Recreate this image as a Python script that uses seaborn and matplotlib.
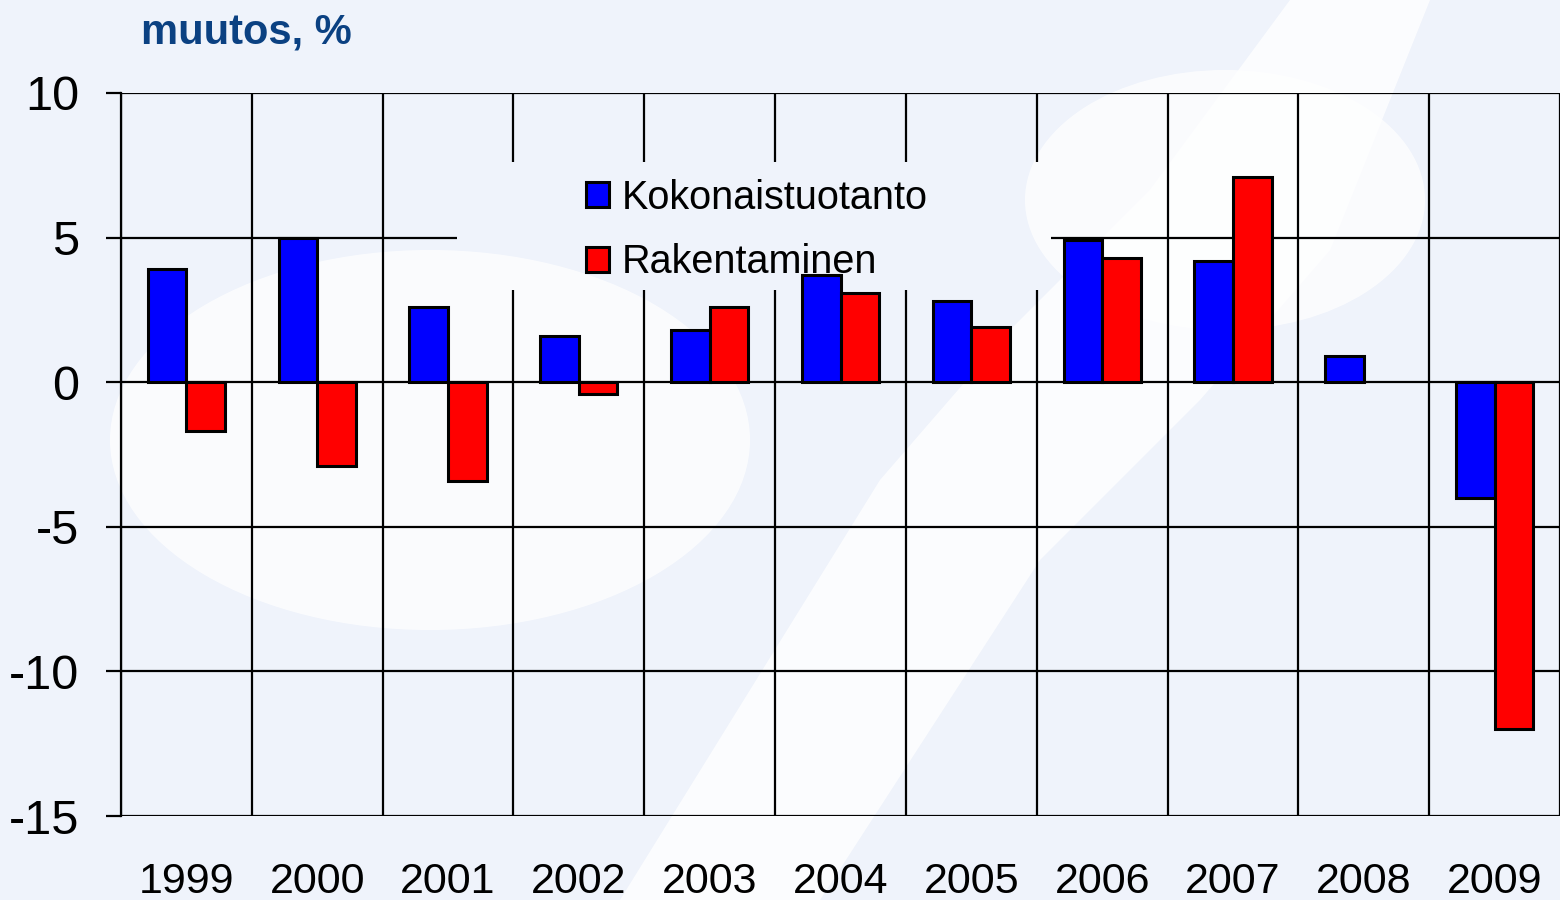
import numpy as np
import pandas as pd
import matplotlib
matplotlib.use("Agg")
import matplotlib.pyplot as plt
import seaborn as sns
from matplotlib.patches import Polygon, Ellipse
from matplotlib.path import Path

years = ["1999", "2000", "2001", "2002", "2003", "2004", "2005", "2006", "2007", "2008", "2009"]
kokonais = [3.9, 5.0, 2.6, 1.6, 1.8, 3.7, 2.8, 4.9, 4.2, 0.9, -4.0]
rakentaminen = [-1.7, -2.9, -3.4, -0.4, 2.6, 3.1, 1.9, 4.3, 7.1, np.nan, -12.0]
series = ["Kokonaistuotanto", "Rakentaminen"]

df = pd.DataFrame({
    "year": years * 2,
    "value": kokonais + rakentaminen,
    "series": [series[0]] * len(years) + [series[1]] * len(years),
})

bg = "#EFF3FB"
sns.set_style("white")
plt.rcParams["font.family"] = ["Liberation Sans", "DejaVu Sans"]
plt.rcParams["axes.unicode_minus"] = False
plt.rcParams["text.color"] = "black"
plt.rcParams["xtick.color"] = "black"
plt.rcParams["ytick.color"] = "black"

fig = plt.figure(figsize=(15.6, 9), dpi=100, facecolor=bg)

# white swooshes of the slide background (pixel coords from top-left)
def fig_xy(pts):
    return [(x / 1560, 1 - y / 900) for x, y in pts]

band = fig_xy([(620, 900), (820, 900), (1040, 560), (1200, 400), (1330, 250), (1430, 0),
               (1290, 0), (1150, 190), (1010, 330), (880, 480)])
fig.patches.append(Polygon(band, closed=True, transform=fig.transFigure,
                           facecolor="white", edgecolor="none", alpha=0.8, zorder=0))
fig.patches.append(Ellipse((430 / 1560, 1 - 440 / 900), 640 / 1560, 380 / 900,
                           transform=fig.transFigure, facecolor="white",
                           edgecolor="none", alpha=0.75, zorder=0))
fig.patches.append(Ellipse((1225 / 1560, 1 - 200 / 900), 400 / 1560, 260 / 900,
                           transform=fig.transFigure, facecolor="white",
                           edgecolor="none", alpha=0.75, zorder=0))

ax = fig.add_axes([0.0776, 0.0933, 0.9224, 0.8034])
ax.set_zorder(2)
ax.set_facecolor("none")

sns.barplot(data=df, x="year", y="value", hue="series", order=years, hue_order=series,
            palette=["#0000FF", "#FF0000"], width=0.59, gap=0, edgecolor="black",
            linewidth=2.2, saturation=1, ax=ax, zorder=2)

ax.set_xlim(-0.5, 10.5)
ax.set_ylim(-15, 10)
ax.set_yticks([-15, -10, -5, 0, 5, 10])
ax.set_xticks(np.arange(-0.5, 11, 1), minor=True)
ax.set_axisbelow(True)
ax.grid(True, which="minor", axis="x", color="black", linewidth=1.6)
ax.grid(True, which="major", axis="y", color="black", linewidth=1.6)
ax.grid(False, which="major", axis="x")
ax.tick_params(axis="y", which="major", direction="out", length=11, width=1.6,
               labelsize=35, pad=19, color="black", labelcolor="black", left=True)
ax.tick_params(axis="x", which="both", length=0, labelsize=31, pad=33, labelcolor="black")
for s in ["top", "right", "bottom"]:
    ax.spines[s].set_visible(False)
ax.spines["left"].set_color("black")
ax.spines["left"].set_linewidth(1.6)
ax.set_xlabel("")
ax.set_ylabel("")

leg = ax.legend(loc="upper left", bbox_to_anchor=(0.3095, 0.909), frameon=False,
                fontsize=28.5, handlelength=0.58, handleheight=0.58, handletextpad=0.33,
                labelspacing=0.68, borderpad=0)
leg.set_zorder(1)
for t in leg.get_texts():
    t.set_color("black")

fig.text(0.0904, 0.952, "muutos, %", fontsize=30, fontweight="bold", color="#0B4182")

# grid is interrupted around the legend (transparent legend box)
fig.canvas.draw()
x0, x1, y0, y1 = 0.2336, 0.6464, 0.7276, 0.9044
outer = Path([(-0.05, -0.05), (1.05, -0.05), (1.05, 1.05), (-0.05, 1.05), (-0.05, -0.05)], closed=True)
inner = Path([(x0, y0), (x0, y1), (x1, y1), (x1, y0), (x0, y0)], closed=True)
hole = Path.make_compound_path(outer, inner)
for tick in ax.xaxis.get_minor_ticks() + ax.yaxis.get_major_ticks():
    tick.gridline.set_clip_path(hole, ax.transAxes)

fig.savefig("out.png", dpi=100, facecolor=bg)
